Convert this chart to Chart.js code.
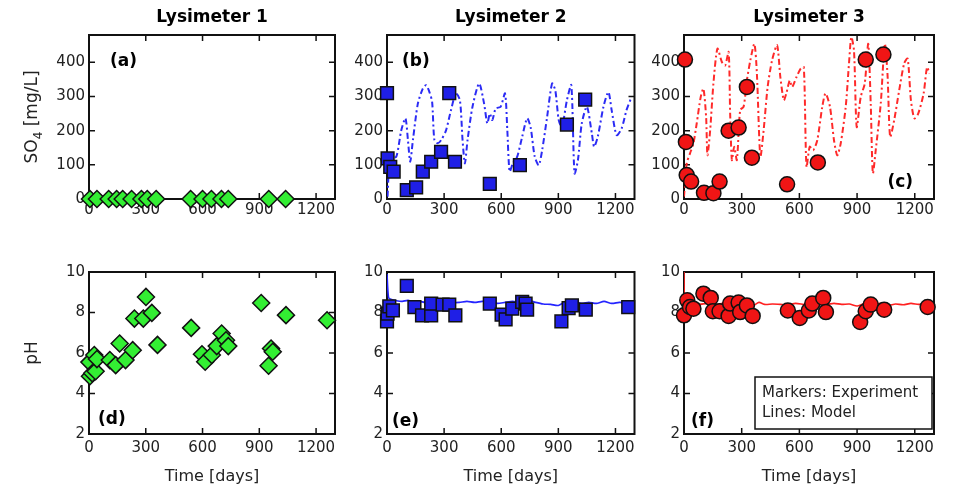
<!DOCTYPE html>
<html>
<head>
<meta charset="utf-8">
<script src="https://cdn.jsdelivr.net/npm/chart.js@4.4.1/dist/chart.umd.min.js"></script>
<style>
body { margin: 0; background: #fff; width: 961px; height: 491px; overflow: hidden; position: relative; }
.panel { position: absolute; }
</style>
</head>
<body>
<div class="panel" style="left:0px;top:0px"><canvas id="soChart1" width="345" height="240"></canvas></div>
<div class="panel" style="left:345px;top:0px"><canvas id="soChart2" width="300" height="240"></canvas></div>
<div class="panel" style="left:645px;top:0px"><canvas id="soChart3" width="316" height="240"></canvas></div>
<div class="panel" style="left:0px;top:240px"><canvas id="phChart1" width="345" height="251"></canvas></div>
<div class="panel" style="left:345px;top:240px"><canvas id="phChart2" width="300" height="251"></canvas></div>
<div class="panel" style="left:645px;top:240px"><canvas id="phChart3" width="316" height="251"></canvas></div>
<script>
// tick labels
const dayTicks = [0, 300, 600, 900, 1200];
const so4Ticks = [0, 100, 200, 300, 400];
const phTicks = [2, 4, 6, 8, 10];

// Lysimeter 1 (markers only)
const lys1So4 = [[5, 0], [42, 0], [104, 0], [146, 0], [178, 0], [225, 0], [277, 0], [308, 0], [355, 0],
    [537, 0], [600, 0], [647, 0], [700, 0], [736, 0], [950, 0], [1039, 0]];
const lys1Ph = [[2, 5.55], [5, 4.85], [17, 5.0], [28, 5.9], [35, 5.1], [42, 5.7], [110, 5.65], [141, 5.4],
    [162, 6.47], [193, 5.65], [231, 6.14], [240, 7.7], [287, 7.7], [301, 8.77], [332, 7.98], [362, 6.4],
    [540, 7.24], [597, 5.94], [614, 5.57], [649, 5.9], [675, 6.34], [701, 6.96], [724, 6.63], [736, 6.34],
    [910, 8.47], [949, 5.37], [962, 6.22], [971, 6.06], [1041, 7.87], [1258, 7.62]];

// Lysimeter 2
const lys2So4 = [[0, 310], [3, 119], [17, 94], [35, 80], [104, 26], [153, 34], [188, 80], [232, 109],
    [284, 138], [327, 310], [357, 109], [540, 44], [698, 99], [945, 218], [1041, 291]];
const lys2So4Model = [[3, 7], [10, 85], [23, 119], [49, 124], [75, 201], [97, 236], [110, 172], [122, 109],
    [136, 172], [162, 279], [188, 323], [205, 333], [223, 313], [237, 284], [249, 172], [266, 163], [284, 172],
    [310, 201], [336, 260], [362, 309], [383, 289], [397, 172], [409, 104], [423, 172], [449, 270], [484, 338],
    [510, 279], [527, 221], [540, 250], [553, 231], [571, 265], [597, 270], [620, 309], [632, 201], [644, 80],
    [661, 104], [684, 124], [710, 182], [736, 236], [754, 211], [776, 124], [797, 99], [815, 143], [841, 240],
    [867, 338], [884, 318], [902, 231], [919, 211], [945, 289], [968, 333], [985, 75], [1003, 114], [1023, 221],
    [1050, 270], [1076, 192], [1088, 153], [1107, 182], [1137, 270], [1163, 313], [1180, 260], [1206, 187],
    [1232, 206], [1258, 260], [1281, 294]];
const lys2Ph = [[0, 7.56], [3, 7.94], [12, 8.3], [31, 8.1], [104, 9.31], [144, 8.27], [184, 7.86], [232, 7.86],
    [232, 8.44], [292, 8.39], [327, 8.39], [359, 7.86], [540, 8.44], [602, 7.89], [623, 7.66], [658, 8.19],
    [710, 8.52], [728, 8.44], [736, 8.14], [916, 7.56], [954, 8.22], [971, 8.35], [1044, 8.14], [1267, 8.27]];
const lys2PhModel = [[0, 9.9], [8, 8.75], [20, 8.65], [50, 8.58], [80, 8.55], [110, 8.6], [140, 8.5], [170, 8.55],
    [200, 8.5], [230, 8.55], [260, 8.6], [300, 8.52], [340, 8.48], [380, 8.5], [420, 8.55], [460, 8.5], [500, 8.55],
    [540, 8.52], [580, 8.45], [620, 8.5], [660, 8.55], [700, 8.5], [740, 8.6], [780, 8.5], [820, 8.42], [860, 8.4],
    [900, 8.35], [940, 8.55], [980, 8.6], [1020, 8.45], [1060, 8.5], [1100, 8.45], [1140, 8.55], [1180, 8.45],
    [1220, 8.5], [1260, 8.48], [1300, 8.5]];

// Lysimeter 3
const lys3So4 = [[5, 408], [10, 167], [14, 70], [37, 51], [104, 18], [153, 17], [185, 51], [232, 200],
    [284, 209], [327, 328], [353, 121], [536, 43], [696, 107], [945, 408], [1037, 423]];
const lys3So4Model = [[0, 7], [14, 104], [31, 133], [49, 163], [66, 221], [87, 299], [101, 323], [115, 240],
    [122, 128], [136, 201], [153, 338], [174, 440], [197, 401], [214, 391], [232, 430], [240, 250], [249, 114],
    [261, 153], [275, 114], [292, 260], [310, 270], [327, 347], [345, 406], [366, 454], [379, 367], [397, 124],
    [414, 201], [435, 328], [458, 406], [484, 450], [501, 357], [519, 289], [532, 309], [550, 347], [562, 328],
    [585, 357], [606, 381], [623, 386], [637, 94], [654, 153], [672, 143], [693, 172], [719, 270], [736, 309],
    [759, 270], [780, 172], [797, 128], [815, 163], [841, 270], [858, 397], [870, 474], [884, 435], [898, 211],
    [919, 299], [940, 338], [958, 454], [971, 279], [982, 75], [997, 143], [1023, 279], [1044, 454], [1058, 367],
    [1072, 182], [1093, 231], [1119, 318], [1145, 397], [1163, 411], [1180, 289], [1198, 236], [1218, 250],
    [1246, 309], [1264, 386], [1276, 367]];
const lys3Ph = [[0, 7.86], [17, 8.6], [31, 8.27], [49, 8.19], [101, 8.93], [139, 8.72], [150, 8.06], [185, 8.06],
    [232, 7.83], [240, 8.44], [284, 8.49], [292, 8.02], [327, 8.35], [357, 7.83], [540, 8.1], [602, 7.73],
    [649, 8.1], [667, 8.44], [724, 8.72], [738, 8.02], [916, 7.53], [945, 8.06], [971, 8.39], [1041, 8.14],
    [1267, 8.27]];
const lys3PhModel = [[0, 10], [2, 8.8], [10, 8.5], [40, 8.45], [80, 8.4], [120, 8.45], [160, 8.4], [200, 8.45],
    [240, 8.5], [270, 8.4], [320, 8.45], [360, 8.35], [390, 8.5], [420, 8.4], [460, 8.42], [500, 8.4], [540, 8.38],
    [580, 8.45], [620, 8.4], [660, 8.35], [700, 8.45], [740, 8.4], [780, 8.45], [820, 8.4], [860, 8.42], [900, 8.32],
    [940, 8.45], [980, 8.4], [1020, 8.45], [1060, 8.35], [1100, 8.42], [1140, 8.38], [1180, 8.45], [1220, 8.4],
    [1260, 8.42], [1300, 8.42]];

const FONT = "'DejaVu Sans', Verdana, sans-serif";
const toXY = arr => arr.map(p => ({ x: p[0], y: p[1] }));

// frame, inward ticks and all the text around each panel
const framePlugin = {
    id: 'frame',
    beforeDatasetsDraw(chart, args, o) {
        const { ctx, chartArea: a, scales: { x, y } } = chart;
        ctx.save();
        ctx.strokeStyle = '#111';
        ctx.lineWidth = 1.5;
        ctx.beginPath();
        x.ticks.forEach(t => {
            const px = x.getPixelForValue(t.value);
            ctx.moveTo(px, a.bottom); ctx.lineTo(px, a.bottom - 6);
            ctx.moveTo(px, a.top); ctx.lineTo(px, a.top + 6);
        });
        y.ticks.forEach(t => {
            const py = y.getPixelForValue(t.value);
            ctx.moveTo(a.left, py); ctx.lineTo(a.left + 6, py);
            ctx.moveTo(a.right, py); ctx.lineTo(a.right - 6, py);
        });
        ctx.stroke();
        ctx.lineWidth = 2;
        ctx.strokeRect(a.left, a.top, a.right - a.left, a.bottom - a.top);
        ctx.restore();
    },
    afterDraw(chart, args, o) {
        const { ctx, chartArea: a } = chart;
        const cx = (a.left + a.right) / 2;
        ctx.save();
        ctx.fillStyle = '#000';
        ctx.textBaseline = 'middle';
        if (o.title) {
            ctx.font = 'bold 17px ' + FONT;
            ctx.textAlign = 'center';
            ctx.fillText(o.title, cx, 18);
        }
        if (o.label) {
            ctx.font = 'bold 17px ' + FONT;
            ctx.textAlign = o.labelAlign || 'left';
            const lx = o.labelAlign === 'right' ? a.right - o.labelDx : a.left + o.labelDx;
            const ly = o.labelDy > 0 ? a.top + o.labelDy : a.bottom + o.labelDy;
            ctx.fillText(o.label, lx, ly);
        }
        if (o.xTitle) {
            ctx.font = '16px ' + FONT;
            ctx.fillStyle = '#222';
            ctx.textAlign = 'center';
            ctx.fillText(o.xTitle, cx, o.xTitleY);
        }
        if (o.yTitle) {
            ctx.fillStyle = '#222';
            ctx.translate(33, (a.top + a.bottom) / 2);
            ctx.rotate(-Math.PI / 2);
            const parts = o.yTitle;
            const big = '17px ' + FONT, small = '12px ' + FONT;
            let total = 0;
            parts.forEach(p => { ctx.font = p.sub ? small : big; total += ctx.measureText(p.t).width; });
            let px = -total / 2;
            ctx.textAlign = 'left';
            parts.forEach(p => {
                ctx.font = p.sub ? small : big;
                ctx.fillText(p.t, px, p.sub ? 6 : 0);
                px += ctx.measureText(p.t).width;
            });
            ctx.setTransform(1, 0, 0, 1, 0, 0);
        }
        if (o.legend) {
            const bw = 177, bh = 52;
            const bx = a.right - 2 - bw, by = a.bottom - 5 - bh;
            ctx.fillStyle = '#fff';
            ctx.fillRect(bx, by, bw, bh);
            ctx.strokeStyle = '#111';
            ctx.lineWidth = 1.5;
            ctx.strokeRect(bx, by, bw, bh);
            ctx.fillStyle = '#222';
            ctx.font = '15px ' + FONT;
            ctx.textAlign = 'left';
            ctx.fillText(o.legend[0], bx + 7, by + 16);
            ctx.fillText(o.legend[1], bx + 7, by + 36);
        }
        ctx.restore();
    }
};

const cols = [
    { yw: 89, pr: 7 },
    { yw: 42, pr: 8 },
    { yw: 39, pr: 27 }
];
const rows = [
    { pt: 35, xh: 41, pad: 2 },
    { pt: 32, xh: 57, pad: 5 }
];

function makePanel(canvasId, col, row, datasets, yMin, yMax, yTicks, deco) {
    const c = cols[col], r = rows[row];
    return new Chart(document.getElementById(canvasId), {
        type: 'scatter',
        data: { datasets: datasets },
        options: {
            responsive: false,
            animation: false,
            layout: { padding: { left: 0, right: c.pr, top: r.pt, bottom: 0 } },
            scales: {
                x: {
                    type: 'linear', min: 0, max: 1300,
                    afterBuildTicks: s => { s.ticks = dayTicks.map(v => ({ value: v })); },
                    afterFit: s => { s.height = r.xh; },
                    grid: { display: false, drawTicks: false },
                    border: { display: false },
                    ticks: { color: '#222', padding: r.pad, font: { family: FONT, size: 15 }, callback: v => String(v) }
                },
                y: {
                    type: 'linear', min: yMin, max: yMax,
                    afterBuildTicks: s => { s.ticks = yTicks.map(v => ({ value: v })); },
                    afterFit: s => { s.width = c.yw; },
                    grid: { display: false, drawTicks: false },
                    border: { display: false },
                    ticks: { color: '#222', padding: 4, font: { family: FONT, size: 15 }, callback: v => String(v) }
                }
            },
            plugins: {
                legend: { display: false },
                tooltip: { enabled: false },
                frame: deco
            }
        },
        plugins: [framePlugin]
    });
}

function markers(arr, style, fill, radius) {
    return {
        data: toXY(arr), pointStyle: style, pointRadius: radius,
        backgroundColor: fill, borderColor: '#111', borderWidth: 1.5,
        showLine: false, clip: false, order: 1
    };
}
function modelLine(arr, color, dash) {
    return {
        data: toXY(arr), showLine: true, pointRadius: 0, borderColor: color,
        borderWidth: dash ? 2 : 1.6, borderDash: dash || [], tension: 0.25, order: 2
    };
}

const green = '#33ee33', blue = '#1f1fe6', red = '#f01515';
const dashDot = [6, 3, 2, 3];

makePanel('soChart1', 0, 0, [markers(lys1So4, 'rectRot', green, 8.5)], 0, 480, so4Ticks,
    { title: 'Lysimeter 1', label: '(a)', labelDx: 21, labelDy: 27,
      yTitle: [{ t: 'SO' }, { t: '4', sub: true }, { t: ' [mg/L]' }] });
makePanel('soChart2', 1, 0, [markers(lys2So4, 'rect', blue, 9), modelLine(lys2So4Model, '#2b2bf5', dashDot)],
    0, 480, so4Ticks, { title: 'Lysimeter 2', label: '(b)', labelDx: 15, labelDy: 27 });
makePanel('soChart3', 2, 0, [markers(lys3So4, 'circle', red, 7.5), modelLine(lys3So4Model, '#ff2a2a', dashDot)],
    0, 480, so4Ticks, { title: 'Lysimeter 3', label: '(c)', labelAlign: 'right', labelDx: 21, labelDy: -16 });

makePanel('phChart1', 0, 1, [markers(lys1Ph, 'rectRot', green, 8.5)], 2, 10, phTicks,
    { label: '(d)', labelDx: 9, labelDy: -14, xTitle: 'Time [days]', xTitleY: 237, yTitle: [{ t: 'pH' }] });
makePanel('phChart2', 1, 1, [markers(lys2Ph, 'rect', blue, 9), modelLine(lys2PhModel, '#2424ff')],
    2, 10, phTicks, { label: '(e)', labelDx: 5, labelDy: -12, xTitle: 'Time [days]', xTitleY: 237 });
makePanel('phChart3', 2, 1, [markers(lys3Ph, 'circle', red, 7.5), modelLine(lys3PhModel, '#ff2020')],
    2, 10, phTicks, { label: '(f)', labelDx: 7, labelDy: -12, xTitle: 'Time [days]', xTitleY: 237,
      legend: ['Markers: Experiment', 'Lines: Model'] });
</script>
</body>
</html>
